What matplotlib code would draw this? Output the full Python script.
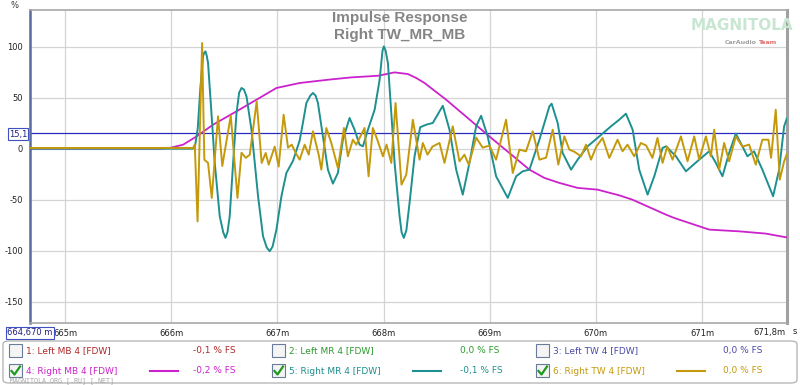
import matplotlib
matplotlib.use("Agg")
import matplotlib.pyplot as plt
from matplotlib.patches import Rectangle, FancyBboxPatch
from matplotlib.lines import Line2D

# ---------------- data (time in ms, amplitude in %) ----------------
mr_t = [664.67, 666.20, 666.222, 666.250, 666.275, 666.300, 666.310, 666.323, 666.335, 666.347,
        666.379, 666.410, 666.457, 666.490, 666.511, 666.530, 666.551, 666.583, 666.615, 666.640,
        666.662, 666.685, 666.709, 666.756, 666.787, 666.818, 666.865, 666.900, 666.928, 666.955,
        666.991, 667.038, 667.085, 667.147, 667.210, 667.240, 667.273, 667.310, 667.335, 667.360,
        667.382, 667.429, 667.476, 667.523, 667.570, 667.617, 667.680, 667.727, 667.774, 667.806,
        667.853, 667.916, 667.963, 667.990, 668.003, 668.020, 668.041, 668.073, 668.104, 668.151,
        668.170, 668.191, 668.215, 668.245, 668.292, 668.345, 668.402, 668.464, 668.558, 668.621,
        668.684, 668.746, 668.809, 668.872, 668.919, 668.981, 669.060, 669.170, 669.249, 669.311,
        669.374, 669.468, 669.562, 669.583, 669.640, 669.687, 669.766, 669.828, 669.922, 670.032,
        670.142, 670.220, 670.283, 670.346, 670.408, 670.487, 670.550, 670.628, 670.660, 670.754,
        670.848, 670.973, 671.067, 671.130, 671.192, 671.255, 671.318, 671.380, 671.427, 671.490,
        671.568, 671.669, 671.726, 671.773, 671.80]
mr_v = [0.0, 0.0, 0.7, 20.0, 60.0, 90.5, 94.0, 95.4, 91.0, 84.0,
        35.0, -14.0, -66.3, -82.0, -87.5, -82.0, -66.3, -14.0, 35.0, 55.0,
        59.5, 58.0, 51.3, 18.6, -14.0, -46.7, -86.0, -97.0, -100.6, -96.0,
        -79.4, -46.7, -23.8, -12.0, 8.0, 25.0, 44.8, 52.0, 54.6, 52.0,
        44.8, 12.0, -20.6, -34.3, -23.8, 8.8, 30.1, 18.6, 3.9, 2.3,
        18.6, 38.2, 67.6, 96.0, 100.3, 96.0, 84.0, 35.0, -14.0, -66.3,
        -82.0, -87.5, -80.0, -53.2, -7.5, 21.0, 23.5, 25.2, 42.1, 18.6,
        -20.6, -45.1, -14.0, 21.9, 32.3, 12.0, -27.1, -48.3, -27.1, -22.2,
        -20.6, 8.8, 41.5, 44.1, 25.2, -4.2, -20.6, -10.8, 2.3, 12.0,
        21.9, 28.4, 34.3, 18.6, -20.6, -45.1, -27.1, 0.7, 2.3, -7.5,
        -22.2, -10.8, -2.6, -14.0, -27.1, -4.2, 14.7, 2.3, -7.5, -2.6,
        -20.6, -46.7, -20.6, 21.9, 30.0]

mb_t = [664.67, 665.893, 665.987, 666.112, 666.238, 666.394, 666.615, 666.803, 666.991, 667.210,
        667.476, 667.696, 667.947, 668.104, 668.229, 668.308, 668.386, 668.590, 668.997, 669.374,
        669.515, 669.656, 669.828, 670.016, 670.220, 670.343, 670.660, 670.738, 671.067, 671.349,
        671.600, 671.773, 671.80]
mb_v = [0.0, 0.0, 0.7, 3.9, 12.0, 23.5, 36.6, 48.0, 59.5, 64.4,
        67.6, 69.9, 71.5, 74.8, 73.2, 69.3, 64.4, 48.0, 12.0, -20.6,
        -28.7, -33.6, -38.5, -40.2, -45.8, -50.0, -64.7, -68.0, -79.4, -81.1,
        -83.3, -86.6, -87.0]

tw_t = [664.67, 666.206, 666.222, 666.248, 666.291, 666.312, 666.347, 666.382, 666.441, 666.481,
        666.561, 666.624, 666.662, 666.702, 666.740, 666.805, 666.852, 666.890, 666.918, 666.975,
        667.012, 667.059, 667.100, 667.135, 667.172, 667.210, 667.257, 667.295, 667.335, 667.389,
        667.414, 667.461, 667.508, 667.570, 667.627, 667.664, 667.711, 667.743, 667.821, 667.859,
        667.899, 667.941, 667.994, 668.028, 668.073, 668.113, 668.169, 668.214, 668.276, 668.339,
        668.370, 668.414, 668.461, 668.527, 668.574, 668.652, 668.715, 668.762, 668.803, 668.872,
        668.934, 668.997, 669.060, 669.154, 669.217, 669.280, 669.342, 669.405, 669.468, 669.531,
        669.593, 669.646, 669.703, 669.750, 669.797, 669.860, 669.907, 669.954, 670.004, 670.063,
        670.126, 670.204, 670.251, 670.298, 670.361, 670.424, 670.474, 670.533, 670.580, 670.628,
        670.672, 670.722, 670.801, 670.863, 670.926, 670.973, 671.036, 671.083, 671.114, 671.161,
        671.208, 671.255, 671.318, 671.380, 671.443, 671.506, 671.568, 671.625, 671.650, 671.694,
        671.732, 671.773, 671.80]
tw_v = [0.7, 0.7, 3.9, -71.3, 103.6, -10.8, -14.0, -48.3, 31.7, -17.0,
        32.3, -48.3, -4.0, -9.0, -6.0, 46.4, -14.0, -4.2, -15.7, 2.0,
        -17.6, 33.3, 1.0, 3.9, -4.0, -10.8, 3.9, -5.9, 17.0, -5.9,
        -20.6, 20.3, 5.6, -18.9, 20.3, -7.5, 8.8, 3.9, 20.3, -27.1,
        20.3, 8.8, -7.5, 4.0, -14.0, 44.8, -35.3, -25.5, 28.4, -10.8,
        5.6, -5.9, 2.0, 5.6, -14.0, 21.9, -12.4, -5.9, -15.7, 10.8,
        1.0, 3.0, -10.8, 28.4, -23.8, -1.0, -2.6, 17.0, -10.8, -8.8,
        18.6, -15.7, 12.0, -1.0, -3.0, -7.5, 3.9, -10.8, 2.0, 10.5,
        -9.1, 8.8, -2.6, 3.9, -7.5, 5.6, 3.0, -9.1, 10.5, -14.0,
        2.0, -10.8, 12.0, -12.4, 12.0, -10.8, 12.0, -7.5, 18.6, -20.6,
        5.6, -12.4, 12.0, 2.0, 4.0, -15.7, 8.8, 8.8, -9.0, 38.2,
        -30.4, -12.4, -5.0]

cursor_level = 15.1
x_ticks = [665, 666, 667, 668, 669, 670, 671]
x_tick_labels = ["665m", "666m", "667m", "668m", "669m", "670m", "671m"]
y_ticks = [100, 50, 0, -50, -100, -150]
y_tick_labels = ["100", "50", "0", "-50", "-100", "-150"]
x_range = (664.67, 671.80)
y_range = (-171, 136)

legend_names = ["1: Left MB 4 [FDW]", "2: Left MR 4 [FDW]", "3: Left TW 4 [FDW]",
                "4: Right MB 4 [FDW]", "5: Right MR 4 [FDW]", "6: Right TW 4 [FDW]"]
legend_values = ["-0,1 % FS", "0,0 % FS", "0,0 % FS", "-0,2 % FS", "-0,1 % FS", "0,0 % FS"]
legend_checked = [False, False, False, True, True, True]

# ---------------- styling ----------------
C_MB = "#cc22cc"
C_MR = "#1e9090"
C_TW = "#c49a0c"
legend_colors = ["#b02828", "#2e9a2e", "#4a4aa8", C_MB, C_MR, C_TW]

W, H = 800, 385
fig = plt.figure(figsize=(8, 3.85), dpi=100)
fig.patch.set_facecolor("white")

def fx(px):
    return px / W

def fy(py):
    return 1 - py / H

ax = fig.add_axes([fx(30), fy(323), fx(787) - fx(30), fy(10) - fy(323)])
ax.set_xlim(*x_range)
ax.set_ylim(*y_range)

ax.grid(True, color="#d4d4d4", lw=0.9)
ax.set_axisbelow(True)
ax.set_xticks(x_ticks)
ax.set_xticklabels(x_tick_labels)
ax.set_yticks(y_ticks)
ax.set_yticklabels(y_tick_labels)
ax.tick_params(axis="both", length=0, labelsize=6, colors="#222222")
ax.tick_params(axis="x", pad=4)
ax.tick_params(axis="y", pad=5)

for s in ["top", "bottom"]:
    ax.spines[s].set_color("#a8a8a8")
    ax.spines[s].set_linewidth(1.2)
ax.spines["right"].set_color("#a0a0a0")
ax.spines["right"].set_linewidth(2.2)
ax.spines["left"].set_color("#5a6a9a")
ax.spines["left"].set_linewidth(1.8)

ax.axhline(cursor_level, color="#2a2ac0", lw=0.9, zorder=2)
line_kw = dict(solid_joinstyle="round", solid_capstyle="round")
ax.plot(mb_t, mb_v, color=C_MB, lw=1.3, zorder=3, **line_kw)
ax.plot(mr_t, mr_v, color=C_MR, lw=1.4, zorder=4, **line_kw)
ax.plot(tw_t, tw_v, color=C_TW, lw=1.4, zorder=5, **line_kw)

# title
fig.text(fx(400), fy(18), "Impulse Response", ha="center", va="center",
         fontsize=11, fontweight="bold", color="#858585", family="Liberation Sans")
fig.text(fx(400), fy(35), "Right TW_MR_MB", ha="center", va="center",
         fontsize=11, fontweight="bold", color="#858585", family="Liberation Sans")

# watermark top right
fig.text(fx(742), fy(26), "MAGNITOLA", ha="center", va="center", fontsize=11,
         color="#c8e6d2", family="Liberation Sans Narrow", fontweight="bold")
fig.text(fx(757), fy(43), "CarAudio", ha="right", va="center", fontsize=4.5,
         color="#a0a0a0", fontweight="bold")
fig.text(fx(758), fy(43), "Team", ha="left", va="center", fontsize=4.5,
         color="#e07070", fontweight="bold")

# axis decorations
fig.text(fx(14), fy(5), "%", ha="center", va="center", fontsize=6, color="#333333")
fig.text(fx(795), fy(332), "s", ha="center", va="center", fontsize=6, color="#222222")
fig.text(fx(785), fy(332), "671,8m", ha="right", va="center", fontsize=6, color="#222222")
fig.text(fx(18), fy(134), "15,1", ha="center", va="center", fontsize=6, color="#202080",
         bbox=dict(boxstyle="square,pad=0.15", fc="white", ec="#4050c0", lw=0.8))
fig.text(fx(30), fy(333), "664,670 m", ha="center", va="center", fontsize=6, color="#202080",
         bbox=dict(boxstyle="square,pad=0.15", fc="white", ec="#4050c0", lw=0.8))

# legend panel
panel = FancyBboxPatch((fx(3), fy(383)), fx(794), fy(341) - fy(383),
                       boxstyle="round,pad=0,rounding_size=0.008",
                       transform=fig.transFigure, fc="white", ec="#b0b0b0", lw=0.9)
fig.patches.append(panel)

col_box_x = [9, 272, 536]
col_val_x = [193, 460, 723]
row_y = [351, 371]
sample_x = [150, 413, 677]

for i, (name, val, chk, col) in enumerate(zip(legend_names, legend_values,
                                               legend_checked, legend_colors)):
    r, c = divmod(i, 3)
    bx = col_box_x[c]
    by = row_y[r]
    box = Rectangle((fx(bx), fy(by + 6)), fx(13), fy(by - 7) - fy(by + 6),
                    transform=fig.transFigure, fc="#f4f4f4", ec="#6a7a9a", lw=0.8)
    fig.patches.append(box)
    if chk:
        fig.lines.append(Line2D([fx(bx + 2.5), fx(bx + 5.5), fx(bx + 11)],
                                [fy(by), fy(by + 3.5), fy(by - 4.5)],
                                transform=fig.transFigure, color="#1e9a1e", lw=1.6))
        fig.lines.append(Line2D([fx(sample_x[c]), fx(sample_x[c] + 28)], [fy(by), fy(by)],
                                transform=fig.transFigure, color=col, lw=1.5))
    fig.text(fx(bx + 17), fy(by), name, ha="left", va="center", fontsize=6.5, color=col)
    fig.text(fx(col_val_x[c]), fy(by), val, ha="left", va="center", fontsize=6.5, color=col)

fig.text(fx(10), fy(380.5), "MAGNITOLA.ORG [.RU] [.NET]", ha="left", va="center",
         fontsize=4.8, color="#909090", family="DejaVu Sans Mono", alpha=0.8)

fig.savefig("out.png", dpi=100, facecolor="white")
